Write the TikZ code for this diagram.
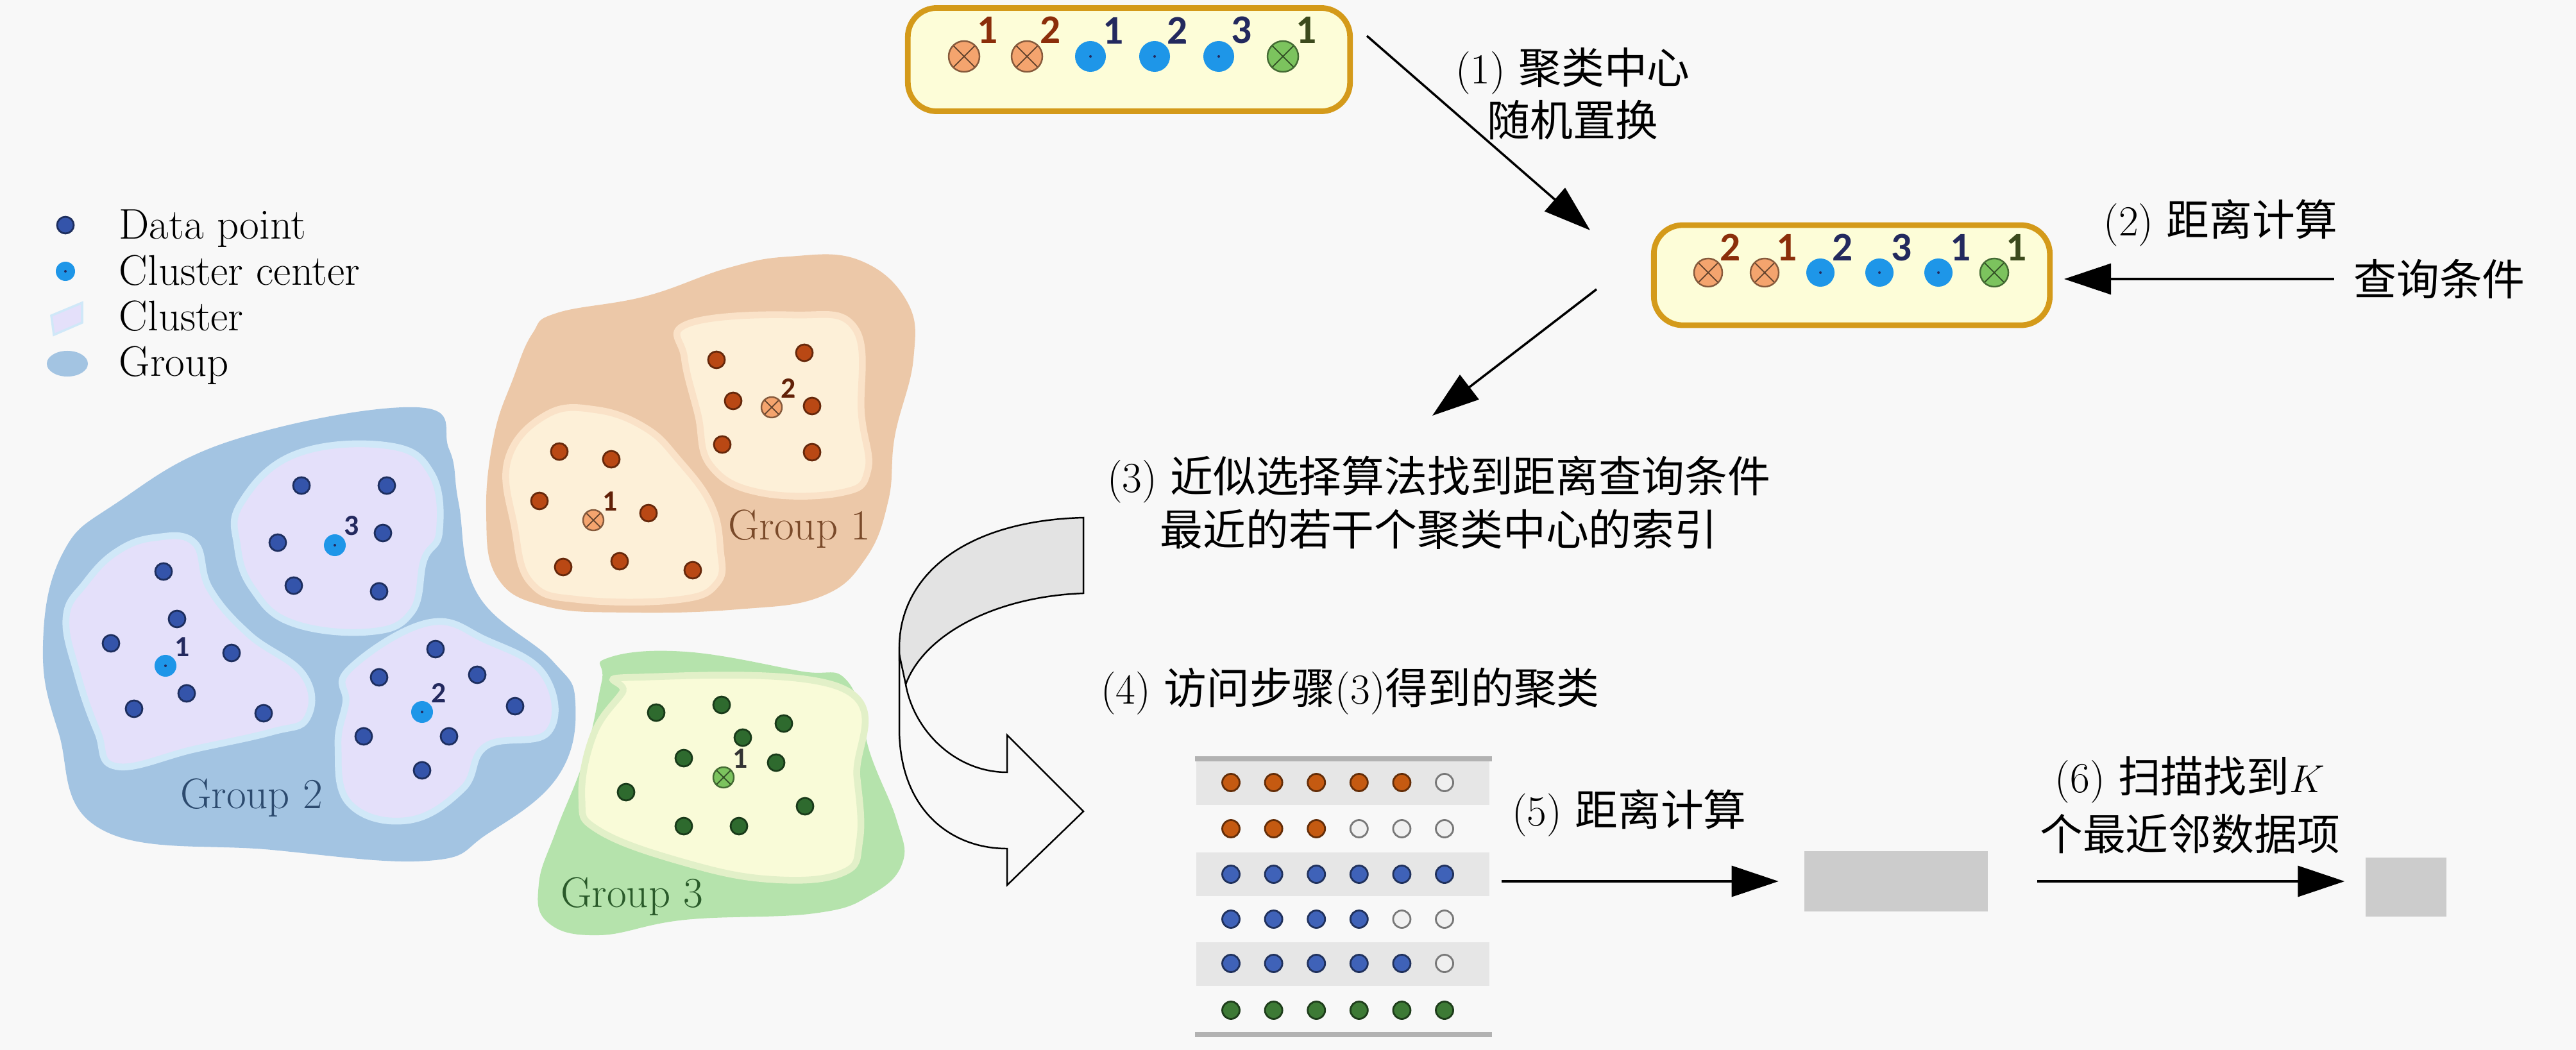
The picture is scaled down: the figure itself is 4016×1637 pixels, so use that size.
\documentclass[tikz,border=0pt]{standalone}
\usepackage{fontspec}
\newfontfamily\cjk{Noto Sans CJK SC}
\newfontfamily\numfont{Carlito}
\usetikzlibrary{arrows.meta}
\definecolor{bgc}{RGB}{248,248,248}
\definecolor{grpblue}{RGB}{163,196,226}
\definecolor{clublue}{RGB}{228,224,250}
\definecolor{halblue}{RGB}{208,232,248}
\definecolor{grppeach}{RGB}{236,200,168}
\definecolor{clupeach}{RGB}{253,240,216}
\definecolor{halpeach}{RGB}{250,226,200}
\definecolor{grpgreen}{RGB}{181,227,172}
\definecolor{clugreen}{RGB}{249,251,216}
\definecolor{halgreen}{RGB}{226,240,200}
\definecolor{ptblue}{RGB}{52,84,170}
\definecolor{ptbrown}{RGB}{185,72,20}
\definecolor{ptgreen}{RGB}{46,106,46}
\definecolor{cenblue}{RGB}{30,150,232}
\definecolor{cenpeach}{RGB}{244,164,110}
\definecolor{cengreen}{RGB}{124,195,94}
\definecolor{capfill}{RGB}{253,253,216}
\definecolor{capline}{RGB}{212,154,26}
\definecolor{rowgray}{RGB}{230,230,230}
\definecolor{boxgray}{RGB}{204,204,204}
\definecolor{numbrown}{RGB}{139,46,10}
\definecolor{numnavy}{RGB}{35,41,94}
\definecolor{numolive}{RGB}{60,74,28}
\definecolor{tor}{RGB}{197,90,17}
\definecolor{tbl}{RGB}{63,98,184}
\definecolor{tgr}{RGB}{61,122,53}
\definecolor{twh}{RGB}{240,240,240}
\tikzset{%
  >={Triangle[length=7.3mm,width=4.8mm]},
  % Specifications for style of nodes:
         txt/.style = {font=\fontsize{19}{23.5}\selectfont, align=center,
                       inner sep=0pt},
         arr/.style = {->, line width=1pt},
          pt/.style = {circle, inner sep=0pt, minimum size=0.26cm,
                       draw=#1!55!black, fill=#1, line width=0.8pt},
        tdot/.style = {circle, inner sep=0pt, minimum size=0.27cm,
                       draw=#1!50!black, fill=#1, line width=0.8pt},
        bcen/.style = {circle, inner sep=0pt, minimum size=0.34cm, fill=cenblue,
                       path picture={\fill[numnavy] (path picture bounding box.center)
                       circle (0.02cm);}},
        xcen/.style = {circle, inner sep=0pt, minimum size=0.32cm,
                       draw=#1!55!black, fill=#1, line width=0.7pt,
                       path picture={\draw[#1!40!black, line width=0.5pt]
                       (path picture bounding box.north west) -- (path picture bounding box.south east)
                       (path picture bounding box.north east) -- (path picture bounding box.south west);}},
         num/.style = {font=\numfont\bfseries\fontsize{18}{18}\selectfont,
                       text=#1, inner sep=0.5pt},
        snum/.style = {font=\numfont\bfseries\fontsize{13}{13}\selectfont,
                       text=#1, inner sep=0.5pt},
     capsule/.style = {rectangle, rounded corners=0.45cm, draw=capline,
                       fill=capfill, line width=2.5pt},
     graybox/.style = {rectangle, fill=boxgray, inner sep=0pt}
}

\begin{document}
\begin{tikzpicture}[x=0.01cm, y=-0.01cm]
  \fill[bgc] (0,0) rectangle (4016,1637);
  \useasboundingbox (0,0) rectangle (4016,1637);

  % Legend
  \node (lgpt) [pt=ptblue] at (102,351) {};
  \node (lgcen) [bcen, minimum size=0.3cm] at (102,423) {};
  \filldraw[fill=clublue, draw=halblue, line width=1pt]
    (80,492) -- (128,472) -- (128,503) -- (84,522) -- cycle;
  \fill[grpblue] (105,567) ellipse [x radius=0.32cm, y radius=0.2cm];
  \node (lgt1) [txt, anchor=base west] at (185,373) {Data point};
  \node (lgt2) [txt, anchor=base west] at (185,445) {Cluster center};
  \node (lgt3) [txt, anchor=base west] at (185,516) {Cluster};
  \node (lgt4) [txt, anchor=base west] at (185,587) {Group};

  % Groups
  \fill[grpblue] plot[smooth cycle, tension=0.7] coordinates {(650,635) (700,700)
    (715,784) (745,927) (861,1030) (897,1096) (870,1210) (760,1300) (667,1342)
    (424,1325) (158,1293) (91,1141) (67,1007) (97,864) (182,784) (364,686)};
  \fill[grppeach] plot[smooth cycle, tension=0.7] coordinates {(868,488) (1006,462)
    (1134,418) (1230,400) (1338,405) (1414,470) (1424,560) (1395,680) (1385,780)
    (1350,870) (1280,930) (1150,950) (980,955) (850,945) (775,900) (758,800)
    (770,680) (800,590) (830,520)};
  \fill[grpgreen] plot[smooth cycle, tension=0.7] coordinates {(947,1026) (1068,1016)
    (1246,1046) (1322,1063) (1358,1179) (1398,1279) (1407,1345) (1358,1395)
    (1269,1424) (1068,1434) (934,1458) (854,1438) (840,1378) (867,1295) (912,1179)
    (938,1063)};

  % Clusters
  \filldraw[fill=clublue, draw=halblue, line width=3pt] plot[smooth cycle, tension=0.7]
    coordinates {(242,838) (303,846) (327,918) (388,989) (473,1052) (479,1119)
    (424,1141) (303,1168) (182,1195) (152,1141) (121,1052) (103,963) (133,909) (182,860)};
  \filldraw[fill=clublue, draw=halblue, line width=3pt] plot[smooth cycle, tension=0.7]
    coordinates {(376,784) (461,708) (606,695) (673,739) (685,829) (661,873) (642,954)
    (576,985) (455,971) (394,918) (370,851)};
  \filldraw[fill=clublue, draw=halblue, line width=3pt] plot[smooth cycle, tension=0.7]
    coordinates {(545,1043) (667,971) (758,998) (848,1052) (855,1141) (758,1163)
    (721,1230) (636,1279) (545,1253) (527,1163) (539,1096)};
  \filldraw[fill=clupeach, draw=halpeach, line width=3pt] plot[smooth cycle, tension=0.7]
    coordinates {(1072,505) (1236,491) (1333,512) (1343,646) (1353,733) (1312,768)
    (1185,768) (1108,726) (1088,646) (1067,558)};
  \filldraw[fill=clupeach, draw=halpeach, line width=3pt] plot[smooth cycle, tension=0.7]
    coordinates {(853,646) (930,639) (1006,667) (1057,716) (1108,786) (1123,856)
    (1118,909) (1057,935) (904,935) (828,909) (802,821) (792,716)};
  \filldraw[fill=clugreen, draw=halgreen, line width=3pt] plot[smooth cycle, tension=0.7]
    coordinates {(987,1056) (1313,1073) (1336,1212) (1340,1312) (1313,1361) (1202,1371)
    (1068,1345) (934,1295) (907,1245) (925,1146) (970,1080)};

  % Data points
  \foreach \x/\y [count=\i] in {255/891, 276/965, 173/1003, 361/1018, 291/1081,
      209/1105, 411/1112, 470/757, 603/757, 433/846, 597/831, 458/913, 591/922,
      679/1012, 591/1056, 744/1052, 803/1101, 567/1148, 700/1148, 658/1201}
    \node (b\i) [pt=ptblue] at (\x,\y) {};
  \foreach \x/\y [count=\i] in {1117/561, 1254/550, 1143/625, 1266/633, 1126/693,
      1266/705, 872/704, 953/716, 841/781, 1011/800, 878/884, 966/875, 1080/889}
    \node (o\i) [pt=ptbrown] at (\x,\y) {};
  \foreach \x/\y [count=\i] in {1023/1111, 1125/1099, 1222/1128, 1158/1150,
      1066/1182, 1210/1189, 976/1235, 1255/1257, 1066/1288, 1152/1288}
    \node (g\i) [pt=ptgreen] at (\x,\y) {};

  % Cluster centers
  \node (bc1) [bcen, label={[snum=numnavy]45:1}] at (258,1038) {};
  \node (bc2) [bcen, label={[snum=numnavy]45:2}] at (658,1110) {};
  \node (bc3) [bcen, label={[snum=numnavy]45:3}] at (522,850) {};
  \node (oc1) [xcen=cenpeach, label={[snum=numbrown!70!black]45:1}] at (925,811) {};
  \node (oc2) [xcen=cenpeach, label={[snum=numbrown!70!black]45:2}] at (1203,635) {};
  \node (gc1) [xcen=cengreen, label={[snum=black!80]45:1}] at (1128,1212) {};

  \node (grp1) [txt, text={rgb,255:red,122;green,74;blue,42}] at (1246,825) {Group 1};
  \node (grp2) [txt, text={rgb,255:red,44;green,74;blue,110}] at (392,1244) {Group 2};
  \node (grp3) [txt, text={rgb,255:red,42;green,90;blue,42}] at (985,1398) {Group 3};

  % Capsules of cluster centers
  \node (cap1) [capsule, minimum width=6.89cm, minimum height=1.61cm] at (1760,93) {};
  \foreach \x/\f/\c/\n in {1503/cenpeach/numbrown/1, 1601/cenpeach/numbrown/2,
      2000/cengreen/numolive/1}
    \node (ca\x) [xcen=\f, minimum size=0.48cm, label={[num=\c]45:\n}] at (\x,88) {};
  \foreach \x/\n in {1700/1, 1800/2, 1900/3}
    \node (ca\x) [bcen, minimum size=0.48cm, label={[num=numnavy]45:\n}] at (\x,88) {};

  \node (cap2) [capsule, minimum width=6.17cm, minimum height=1.56cm] at (2887,429) {};
  \foreach \x/\f/\c/\n in {2663/cenpeach/numbrown/2, 2751/cenpeach/numbrown/1,
      3109/cengreen/numolive/1}
    \node (cb\x) [xcen=\f, minimum size=0.44cm, label={[num=\c]45:\n}] at (\x,425) {};
  \foreach \x/\n in {2838/2, 2930/3, 3022/1}
    \node (cb\x) [bcen, minimum size=0.44cm, label={[num=numnavy]45:\n}] at (\x,425) {};

  % Step texts
  \node (t1) [txt] at (2452,146) {(1) {\cjk 聚类中心}\\{\cjk 随机置换}};
  \node (t2) [txt] at (3462,348) {(2) {\cjk 距离计算}};
  \node (query) [txt] at (3803,435) {\cjk 查询条件};
  \node (t3) [txt] at (2243,784) {(3) {\cjk 近似选择算法找到距离查询条件}\\
    {\cjk 最近的若干个聚类中心的索引}};
  \node (t4) [txt] at (2105,1078) {(4) {\cjk 访问步骤}(3){\cjk 得到的聚类}};
  \node (t5) [txt] at (2540,1268) {(5) {\cjk 距离计算}};
  \node (t6) [txt] at (3414,1255) {(6) {\cjk 扫描找到}$K$\\[2pt]{\cjk 个最近邻数据项}};

  % Table of visited clusters
  \node (tbl) [inner sep=0pt, minimum width=4.63cm, minimum height=4.3cm] at (2094,1398) {};
  \foreach \y in {1221,1363,1503}
    \fill[rowgray] (1865,\y-34) rectangle (2322,\y+34);
  \draw[line width=2pt, black!30] (1863,1183) -- (2326,1183);
  \draw[line width=2pt, black!30] (1863,1613) -- (2326,1613);
  \foreach \row/\y [count=\r] in {{tor,tor,tor,tor,tor,twh}/1220,
      {tor,tor,tor,twh,twh,twh}/1292, {tbl,tbl,tbl,tbl,tbl,tbl}/1363,
      {tbl,tbl,tbl,tbl,twh,twh}/1433, {tbl,tbl,tbl,tbl,tbl,twh}/1502,
      {tgr,tgr,tgr,tgr,tgr,tgr}/1575}
    \foreach \c [count=\k] in \row
      \node (d\r-\k) [tdot=\c] at ({1919+66.6*(\k-1)},\y) {};

  \node (box1) [graybox, minimum width=2.85cm, minimum height=0.94cm] at (2956,1374) {};
  \node (box2) [graybox, minimum width=1.26cm, minimum height=0.92cm] at (3751,1383) {};

  % Curled arrow
  \filldraw[fill=black!11, line width=0.7pt] (1689,807)
    .. controls (1500,812) and (1402,900) .. (1402,1010) -- (1402,1030) -- (1412,1067)
    .. controls (1440,990) and (1550,930) .. (1689,925) -- cycle;
  \filldraw[fill=bgc, line width=0.7pt] (1402,1020) -- (1402,1136)
    .. controls (1402,1260) and (1480,1323) .. (1570,1323) -- (1570,1380)
    -- (1689,1265) -- (1570,1146) -- (1570,1204)
    .. controls (1490,1204) and (1425,1140) .. (1412,1067) -- cycle;

  % Arrows
  \coordinate (a1s) at (2131,56);
  \coordinate (a1e) at (2479,359);
  \coordinate (a3s) at (2489,451);
  \coordinate (a3e) at (2233,648);
  \draw[arr] (a1s) -- (a1e);
  \draw[arr, shorten <=0.3cm, shorten >=0.18cm] (query.west) -- (query.west -| cap2.east);
  \draw[arr] (a3s) -- (a3e);
  \draw[arr, shorten <=0.15cm, shorten >=0.4cm] (box1.west -| tbl.east) -- (box1.west);
  \draw[arr, shorten <=0.77cm, shorten >=0.32cm] (box1.east) -- (box1.east -| box2.west);
\end{tikzpicture}
\end{document}
